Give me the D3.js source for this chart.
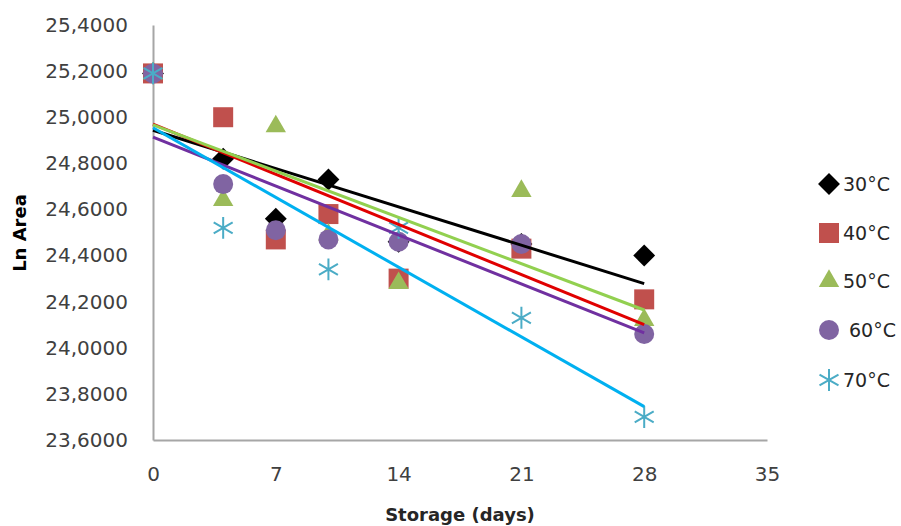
<!DOCTYPE html>
<html>
<head>
<meta charset="utf-8">
<script src="https://cdn.jsdelivr.net/npm/d3@7"></script>
<style>
  body { margin: 0; background: #fff; }
  text { font-family: "DejaVu Sans", sans-serif; }
</style>
</head>
<body>
<div class="container"></div>
<script>
// storage days and Ln(area) per temperature
var days = [0, 4, 7, 10, 14, 21, 28];
var series = ["30°C", "40°C", "50°C", "60°C", "70°C"];
var t30 = [25.19, 24.82, 24.56, 24.73, 24.46, 24.45, 24.40];
var t40 = [25.19, 25.00, 24.47, 24.58, 24.30, 24.43, 24.21];
var t50 = [25.19, 24.64, 24.96, 24.49, 24.28, 24.68, 24.12];
var t60 = [25.19, 24.71, 24.51, 24.47, 24.46, 24.45, 24.06];
var t70 = [25.19, 24.52, null, 24.34, 24.52, 24.13, 23.70];
var yTicks = [23.6, 23.8, 24.0, 24.2, 24.4, 24.6, 24.8, 25.0, 25.2, 25.4];
var xTicks = [0, 7, 14, 21, 28, 35];

var width = 901;
var height = 526;

var markFill = ["#000000", "#C0504D", "#9BBB59", "#8064A2", "#4BACC6"];
var trendColor = ["#000000", "#E00000", "#92D050", "#7030A0", "#00B0F0"];

var rows = [t30, t40, t50, t60, t70].map(function(vals, i) {
  var pts = [];
  vals.forEach(function(v, j) { if (v != null) pts.push({x: days[j], y: v}); });
  return {name: series[i], i: i, pts: pts};
});

var x = d3.scaleLinear().domain([0, 35]).range([153, 767]);
var y = d3.scaleLinear().domain([23.6, 25.4]).range([440, 25]);

var svg = d3.select(".container").append("svg")
    .attr("width", width)
    .attr("height", height);

// axes
var fmt = function(d) { return d3.format(".4f")(d).replace(".", ","); };

var yAxis = svg.append("g")
    .attr("transform", "translate(153,0)")
    .call(d3.axisLeft(y).tickValues(yTicks).tickSize(0).tickPadding(25).tickFormat(fmt));

var xAxis = svg.append("g")
    .attr("transform", "translate(0,440)")
    .call(d3.axisBottom(x).tickValues(xTicks).tickSize(0).tickPadding(27).tickFormat(d3.format("d")));

[yAxis, xAxis].forEach(function(a) {
  a.select(".domain").attr("stroke", "#a6a6a6").attr("stroke-width", 2);
  a.selectAll("text").attr("fill", "#404040").style("font-size", "20px")
    .style("font-family", "DejaVu Sans, sans-serif");
});

svg.append("text")
    .attr("x", 460).attr("y", 521)
    .attr("text-anchor", "middle")
    .style("font-size", "18px").style("font-weight", "bold").attr("fill", "#262626")
    .text("Storage (days)");

svg.append("text")
    .attr("transform", "translate(26,233) rotate(-90)")
    .attr("text-anchor", "middle")
    .style("font-size", "18px").style("font-weight", "bold").attr("fill", "#000")
    .text("Ln Area");

// markers
var asterisk = {
  draw: function(ctx, size) {
    var r = Math.sqrt(size) / 2;
    var t = r / 2, u = t * Math.sqrt(3);
    ctx.moveTo(0, -r); ctx.lineTo(0, r);
    ctx.moveTo(-u, -t); ctx.lineTo(u, t);
    ctx.moveTo(-u, t); ctx.lineTo(u, -t);
  }
};
var shapes = [
  d3.symbol().type(d3.symbolSquare).size(240),
  d3.symbol().type(d3.symbolSquare).size(400),
  d3.symbol().type(d3.symbolTriangle).size(180),
  d3.symbol().type(d3.symbolCircle).size(314),
  d3.symbol().type(asterisk).size(480)
];
var rot = [45, 0, 0, 0, 0];

function drawMark(sel, i) {
  sel.attr("d", shapes[i]())
    .attr("fill", i == 4 ? "none" : markFill[i])
    .attr("stroke", i == 4 ? markFill[i] : "none")
    .attr("stroke-width", 2);
}

rows.forEach(function(r) {
  svg.append("g").selectAll("path").data(r.pts)
    .enter().append("path")
    .attr("transform", function(d) {
      return "translate(" + x(d.x) + "," + y(d.y) + ") rotate(" + rot[r.i] + ")";
    })
    .call(drawMark, r.i);
});

// linear trend lines (least squares), drawn from day 0 to day 28
rows.forEach(function(r) {
  var mx = d3.mean(r.pts, function(d) { return d.x; });
  var my = d3.mean(r.pts, function(d) { return d.y; });
  var sxy = d3.sum(r.pts, function(d) { return (d.x - mx) * (d.y - my); });
  var sxx = d3.sum(r.pts, function(d) { return (d.x - mx) * (d.x - mx); });
  var b = sxy / sxx, a = my - b * mx;
  var ends = [0, 28].map(function(d) { return {x: d, y: a + b * d}; });
  svg.append("path")
    .datum(ends)
    .attr("d", d3.line().x(function(d) { return x(d.x); }).y(function(d) { return y(d.y); }))
    .attr("fill", "none")
    .attr("stroke", trendColor[r.i])
    .attr("stroke-width", 3);
});

// legend
var legY = [184, 233, 281, 330, 380];
var leg = svg.append("g").selectAll("g").data(rows)
  .enter().append("g")
  .attr("transform", function(d) { return "translate(829," + legY[d.i] + ")"; });

leg.append("path")
  .attr("transform", function(d) { return "rotate(" + rot[d.i] + ")"; })
  .each(function(d) { d3.select(this).call(drawMark, d.i); });

leg.append("text")
  .attr("x", function(d) { return d.i == 3 ? 20 : 14; })
  .attr("y", 7)
  .style("font-size", "19px").attr("fill", "#262626")
  .text(function(d) { return d.name; });
</script>
</body>
</html>
